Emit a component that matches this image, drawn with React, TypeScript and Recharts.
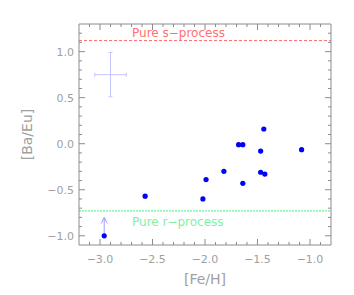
import {
  ReferenceLine,
  Scatter,
  ScatterChart,
  XAxis,
  YAxis,
} from "recharts";

const feH = [-2.96, -2.57, -2.02, -1.99, -1.82, -1.68, -1.64, -1.64, -1.47, -1.47, -1.43, -1.44, -1.08];
const baEu = [-1.0, -0.57, -0.6, -0.39, -0.3, -0.01, -0.01, -0.43, -0.08, -0.31, -0.33, 0.16, -0.065];

const feTicks = [-3.1, -3.0, -2.9, -2.8, -2.7, -2.6, -2.5, -2.4, -2.3, -2.2, -2.1, -2.0, -1.9, -1.8, -1.7, -1.6, -1.5, -1.4, -1.3, -1.2, -1.1, -1.0, -0.9];
const baTicks = [-1.0, -0.9, -0.8, -0.7, -0.6, -0.5, -0.4, -0.3, -0.2, -0.1, 0.0, 0.1, 0.2, 0.3, 0.4, 0.5, 0.6, 0.7, 0.8, 0.9, 1.0, 1.1, 1.2];

const pureS = 1.12;
const pureR = -0.73;
const upperLimit = { fe: -2.96, from: -1.0, to: -0.8 };
const typicalError = { fe: -2.9, ba: 0.75, dFe: 0.15, dBa: 0.24 };

const points = feH.map((x, i) => ({ x, y: baEu[i] }));

const AXIS = "#8c8c8c";
const TEXT = "#a0a0a0";
const FONT = "DejaVu Sans, sans-serif";

const isMajor = (v: number) => Math.abs(v * 2 - Math.round(v * 2)) < 1e-6;
const fmt = (v: number) => v.toFixed(1).replace("-", "\u2212");

const BottomTick = ({ x, y, payload }: any) => {
  const major = isMajor(payload.value);
  return (
    <g>
      <line x1={x} x2={x} y1={y} y2={y - (major ? 6 : 3)} stroke={AXIS} />
      {major && (
        <text x={x} y={y + 18} textAnchor="middle" fill={TEXT} fontSize={11} fontFamily={FONT}>
          {fmt(payload.value)}
        </text>
      )}
    </g>
  );
};

const TopTick = ({ x, y, payload }: any) => (
  <line x1={x} x2={x} y1={y} y2={y + (isMajor(payload.value) ? 6 : 3)} stroke={AXIS} />
);

const LeftTick = ({ x, y, payload }: any) => {
  const major = isMajor(payload.value);
  return (
    <g>
      <line x1={x} x2={x + (major ? 6 : 3)} y1={y} y2={y} stroke={AXIS} />
      {major && (
        <text x={x - 5} y={y + 4} textAnchor="end" fill={TEXT} fontSize={11} fontFamily={FONT}>
          {fmt(payload.value)}
        </text>
      )}
    </g>
  );
};

const RightTick = ({ x, y, payload }: any) => (
  <line x1={x} x2={x - (isMajor(payload.value) ? 6 : 3)} y1={y} y2={y} stroke={AXIS} />
);

const capped = (color: string) => (p: any) => {
  const vertical = Math.abs(p.x1 - p.x2) < 0.5;
  const c = 2;
  return (
    <g stroke={color} strokeWidth={1}>
      <line x1={p.x1} y1={p.y1} x2={p.x2} y2={p.y2} />
      {vertical ? (
        <>
          <line x1={p.x1 - c} x2={p.x1 + c} y1={p.y1} y2={p.y1} />
          <line x1={p.x2 - c} x2={p.x2 + c} y1={p.y2} y2={p.y2} />
        </>
      ) : (
        <>
          <line x1={p.x1} x2={p.x1} y1={p.y1 - c} y2={p.y1 + c} />
          <line x1={p.x2} x2={p.x2} y1={p.y2 - c} y2={p.y2 + c} />
        </>
      )}
    </g>
  );
};

const arrow = (p: any) => {
  const tipY = Math.min(p.y1, p.y2);
  const baseY = Math.max(p.y1, p.y2);
  return (
    <g stroke="#9c9cff" strokeWidth={1} fill="none">
      <line x1={p.x1} x2={p.x1} y1={baseY} y2={tipY} />
      <polyline points={`${p.x1 - 3},${tipY + 6} ${p.x1},${tipY} ${p.x1 + 3},${tipY + 6}`} />
    </g>
  );
};

const lineLabel = (text: string, color: string, dy: number) => (props: any) => {
  const vb = props.viewBox || {};
  return (
    <text x={(vb.x ?? 0) + 53} y={(vb.y ?? 0) + dy} fill={color} fontSize={12} fontFamily={FONT}>
      {text}
    </text>
  );
};

const Dot = (p: any) => <circle cx={p.cx} cy={p.cy} r={2.6} fill="#0000ff" />;

export default function App() {
  return (
    <div style={{ position: "absolute", left: 0, top: 0, background: "#fff" }}>
      <ScatterChart width={354} height={295} margin={{ top: 23, right: 22, bottom: 0, left: 0 }}>
        <XAxis
          type="number"
          dataKey="x"
          domain={[-3.2, -0.8]}
          ticks={feTicks}
          interval={0}
          allowDataOverflow
          height={50}
          tickSize={0}
          tickMargin={0}
          tick={<BottomTick />}
          axisLine={{ stroke: AXIS }}
          label={{ value: "[Fe/H]", position: "insideBottom", offset: 11, fill: TEXT, fontSize: 14, fontFamily: FONT }}
        />
        <XAxis
          xAxisId="top"
          orientation="top"
          type="number"
          dataKey="x"
          domain={[-3.2, -0.8]}
          ticks={feTicks}
          interval={0}
          allowDataOverflow
          height={1}
          tickSize={0}
          tickMargin={0}
          tick={<TopTick />}
          axisLine={{ stroke: AXIS }}
        />
        <YAxis
          type="number"
          dataKey="y"
          domain={[-1.1, 1.3]}
          ticks={baTicks}
          interval={0}
          allowDataOverflow
          width={79}
          tickSize={0}
          tickMargin={0}
          tick={<LeftTick />}
          axisLine={{ stroke: AXIS }}
          label={(props: any) => {
            const vb = props.viewBox || {};
            const cx = (vb.x ?? 0) + 27;
            const cy = (vb.y ?? 0) + (vb.height ?? 0) / 2;
            return (
              <text
                x={cx}
                y={cy}
                transform={`rotate(-90 ${cx} ${cy})`}
                textAnchor="middle"
                dominantBaseline="central"
                fill={TEXT}
                fontSize={14}
                fontFamily={FONT}
              >
                [Ba/Eu]
              </text>
            );
          }}
        />
        <YAxis
          yAxisId="right"
          orientation="right"
          type="number"
          dataKey="y"
          domain={[-1.1, 1.3]}
          ticks={baTicks}
          interval={0}
          allowDataOverflow
          width={1}
          tickSize={0}
          tickMargin={0}
          tick={<RightTick />}
          axisLine={{ stroke: AXIS }}
        />
        <ReferenceLine
          y={pureS}
          stroke="#ff6b6b"
          strokeDasharray="3 2"
          label={lineLabel("Pure s\u2212process", "#ff7070", -4)}
        />
        <ReferenceLine
          y={pureR}
          stroke="#6ff09a"
          strokeDasharray="2 1"
          strokeWidth={1.2}
          label={lineLabel("Pure r\u2212process", "#7ff0a8", 15)}
        />
        <ReferenceLine
          segment={[
            { x: typicalError.fe, y: typicalError.ba - typicalError.dBa },
            { x: typicalError.fe, y: typicalError.ba + typicalError.dBa },
          ]}
          shape={capped("#c4c4ff")}
        />
        <ReferenceLine
          segment={[
            { x: typicalError.fe - typicalError.dFe, y: typicalError.ba },
            { x: typicalError.fe + typicalError.dFe, y: typicalError.ba },
          ]}
          shape={capped("#c4c4ff")}
        />
        <ReferenceLine
          segment={[
            { x: upperLimit.fe, y: upperLimit.from },
            { x: upperLimit.fe, y: upperLimit.to },
          ]}
          shape={arrow}
        />
        <Scatter data={points} shape={<Dot />} isAnimationActive={false} />
        <Scatter
          data={points}
          xAxisId="top"
          yAxisId="right"
          shape={() => <g />}
          isAnimationActive={false}
        />
      </ScatterChart>
    </div>
  );
}
